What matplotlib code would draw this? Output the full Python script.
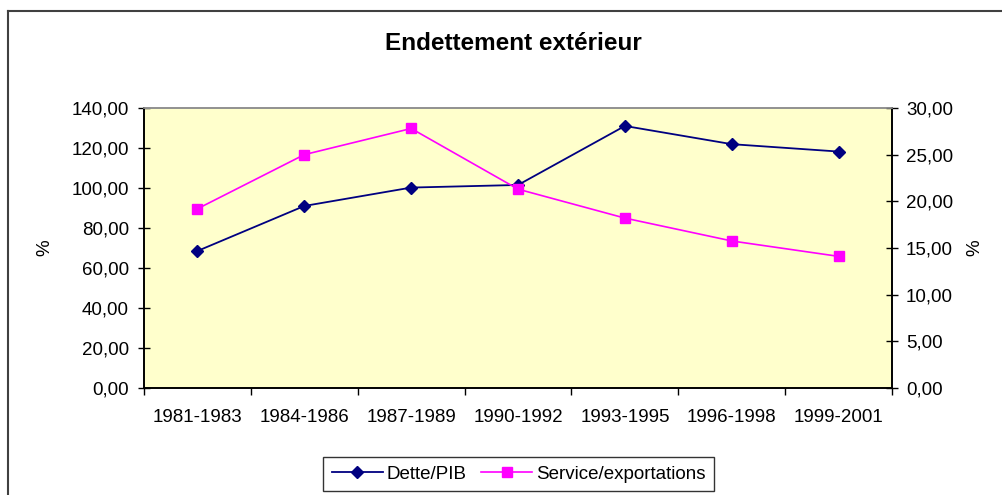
import matplotlib.pyplot as plt
from matplotlib.lines import Line2D
from matplotlib.ticker import FuncFormatter

plt.rcParams['font.family'] = ['Liberation Sans', 'DejaVu Sans']

periods = ["1981-1983", "1984-1986", "1987-1989", "1990-1992",
           "1993-1995", "1996-1998", "1999-2001"]
dette_pib = [68.5, 91.0, 100.2, 101.5, 131.0, 121.9, 118.2]
service_export = [19.2, 25.0, 27.8, 21.3, 18.2, 15.75, 14.1]

left_ticks = [0, 20, 40, 60, 80, 100, 120, 140]
right_ticks = [0, 5, 10, 15, 20, 25, 30]

NAVY = "#000080"
MAGENTA = "#FF00FF"
FS = 13.5

fig = plt.figure(figsize=(10.03, 4.95), dpi=100)
ax = fig.add_axes([0.1436, 0.2162, 0.7458, 0.5657])
ax.set_facecolor("#FFFFCC")
ax2 = ax.twinx()

x = list(range(len(periods)))
l1, = ax.plot(x, dette_pib, color=NAVY, lw=1.3, marker="D", ms=6.5,
              label="Dette/PIB")
l2, = ax2.plot(x, service_export, color=MAGENTA, lw=1.2, marker="s", ms=7.5,
               label="Service/exportations")

comma = FuncFormatter(lambda v, p: f"{v:.2f}".replace(".", ","))

ax.set_xlim(-0.5, len(periods) - 0.5)
ax.set_ylim(0, 140)
ax.set_yticks(left_ticks)
ax.yaxis.set_major_formatter(comma)
ax2.set_ylim(0, 30)
ax2.set_yticks(right_ticks)
ax2.yaxis.set_major_formatter(comma)

# category labels in the middle, tick marks between categories
ax.set_xticks([i - 0.5 for i in range(len(periods) + 1)])
ax.set_xticklabels([])
ax.set_xticks(x, minor=True)
ax.set_xticklabels(periods, minor=True)
ax.tick_params(axis="x", which="major", direction="out", length=5, width=1)
ax.tick_params(axis="x", which="minor", length=0, pad=15, labelsize=FS)
ax.tick_params(axis="y", direction="inout", length=8, width=1, labelsize=FS, pad=7)
ax2.tick_params(axis="y", direction="inout", length=8, width=1, labelsize=FS, pad=6)

for a in (ax, ax2):
    for s in ("left", "right", "bottom"):
        a.spines[s].set_color("black")
        a.spines[s].set_linewidth(1.2)
    a.spines["top"].set_color("#909090")
    a.spines["top"].set_linewidth(1.2)

fig.text(0.045, 0.50, "%", rotation=90, ha="center", va="center", fontsize=FS)
fig.text(0.972, 0.50, "%", rotation=90, ha="center", va="center", fontsize=FS)

fig.text(0.512, 0.913, "Endettement extérieur", ha="center", va="center",
         fontsize=17.5, fontweight="bold")

leg = fig.legend(handles=[l1, l2], loc="center", bbox_to_anchor=(0.517, 0.042),
                 ncol=2, frameon=True, fancybox=False, fontsize=FS,
                 handlelength=2.7, handletextpad=0.2, columnspacing=0.8,
                 borderpad=0.45, borderaxespad=0.0, edgecolor="black")
leg.get_frame().set_linewidth(1.0)

# outer chart border (only left and top are visible in the crop)
fig.add_artist(Line2D([0.008, 0.008], [0.0, 0.978], color="#404040", lw=1.5,
                      transform=fig.transFigure))
fig.add_artist(Line2D([0.008, 1.0], [0.978, 0.978], color="#404040", lw=1.5,
                      transform=fig.transFigure))

fig.savefig("out.png", dpi=100)
